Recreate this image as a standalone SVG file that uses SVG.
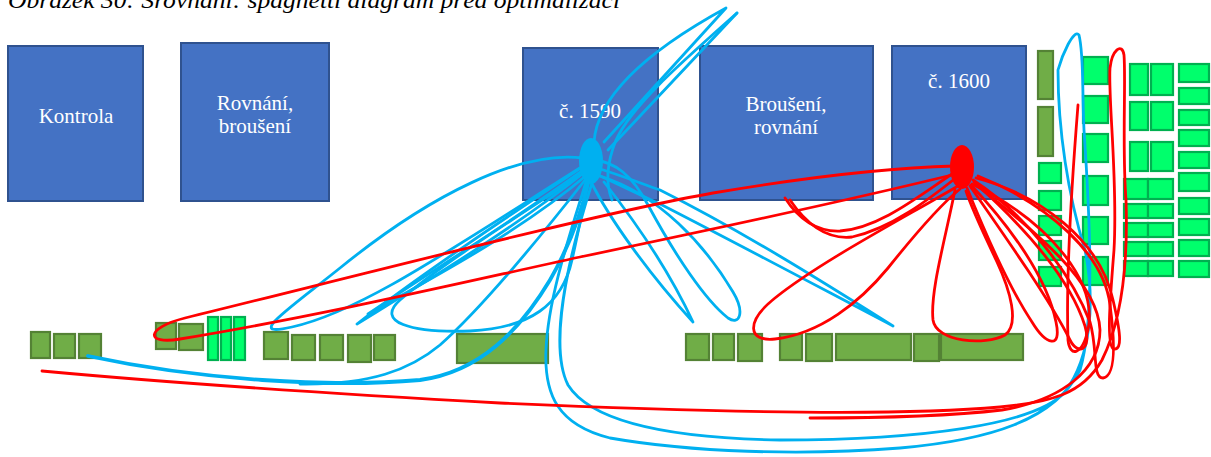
<svg xmlns="http://www.w3.org/2000/svg" width="1211" height="457" viewBox="0 0 1211 457">
  <style>
    .box{fill:#4472C4;stroke:#2F528F;stroke-width:2}
    .lbl{font-size:21px;fill:#FFFFFF;text-anchor:middle}
    .cap{font-size:23px;font-style:italic;fill:#000000}
    .dg{fill:#70AD47;stroke:#548235;stroke-width:2.2}
    .bg{fill:#00FF6C;stroke:#00B050;stroke-width:2.2}
    .blue{fill:none;stroke:#00B0F0;stroke-width:2.8;stroke-linecap:round;stroke-linejoin:round}
    .red{fill:none;stroke:#FF0000;stroke-width:2.8;stroke-linecap:round;stroke-linejoin:round}
  </style>
  <rect width="1211" height="457" fill="#FFFFFF"/>

  <g font-family="'Liberation Serif', 'Times New Roman', 'DejaVu Serif', serif">
  <text class="cap" x="8" y="8" textLength="612" lengthAdjust="spacingAndGlyphs">Obrázek 30: Srovnání: spaghetti diagram před optimalizací</text>

  <!-- workstations -->
  <g id="kontrola"><rect class="box" x="8" y="46" width="135" height="155"/><text class="lbl" x="76" y="123">Kontrola</text></g>
  <g id="rovnani-brouseni"><rect class="box" x="181" y="43" width="148" height="158"/><text class="lbl" x="255" y="110">Rovnání,</text><text class="lbl" x="255" y="133">broušení</text></g>
  <g id="c1590"><rect class="box" x="523" y="48" width="135" height="152"/><text class="lbl" x="590" y="118">č. 1590</text></g>
  <g id="brouseni-rovnani"><rect class="box" x="700" y="46" width="173" height="154"/><text class="lbl" x="786" y="111">Broušení,</text><text class="lbl" x="786" y="134">rovnání</text></g>
  <g id="c1600"><rect class="box" x="892" y="46" width="134" height="153"/><text class="lbl" x="959" y="88">č. 1600</text></g>
  </g>

  <!-- storage racks, bottom row left -->
  <g id="rack-a1"><rect class="dg" x="31" y="332" width="19" height="26"/></g>
  <g id="rack-a2"><rect class="dg" x="54" y="334" width="21" height="24"/></g>
  <g id="rack-a3"><rect class="dg" x="79" y="334" width="22" height="24"/></g>
  <g id="rack-b1"><rect class="dg" x="156" y="323" width="20" height="26"/></g>
  <g id="rack-b2"><rect class="dg" x="179" y="324" width="24" height="26"/></g>
  <g id="rack-b3"><rect class="bg" x="208" y="317" width="10" height="43"/></g>
  <g id="rack-b4"><rect class="bg" x="221" y="317" width="10" height="43"/></g>
  <g id="rack-b5"><rect class="bg" x="234" y="317" width="11" height="43"/></g>
  <g id="rack-c1"><rect class="dg" x="264" y="332" width="24" height="27"/></g>
  <g id="rack-c2"><rect class="dg" x="292" y="335" width="23" height="25"/></g>
  <g id="rack-c3"><rect class="dg" x="320" y="335" width="23" height="25"/></g>
  <g id="rack-c4"><rect class="dg" x="348" y="335" width="23" height="27"/></g>
  <g id="rack-c5"><rect class="dg" x="374" y="335" width="21" height="25"/></g>
  <g id="rack-c6"><rect class="dg" x="457" y="334" width="91" height="29"/></g>

  <!-- storage racks, bottom row right -->
  <g id="rack-d1"><rect class="dg" x="686" y="334" width="23" height="26"/></g>
  <g id="rack-d2"><rect class="dg" x="713" y="334" width="21" height="26"/></g>
  <g id="rack-d3"><rect class="dg" x="738" y="334" width="24" height="27"/></g>
  <g id="rack-d4"><rect class="dg" x="780" y="334" width="22" height="26"/></g>
  <g id="rack-d5"><rect class="dg" x="806" y="334" width="26" height="27"/></g>
  <g id="rack-d6"><rect class="dg" x="836" y="334" width="75" height="26"/></g>
  <g id="rack-d7"><rect class="dg" x="914" y="334" width="25" height="27"/></g>
  <g id="rack-d8"><rect class="dg" x="941" y="334" width="82" height="26"/></g>

  <!-- storage racks, right side -->
  <g id="rack-e1"><rect class="dg" x="1038" y="51" width="15" height="48"/></g>
  <g id="rack-e2"><rect class="dg" x="1038" y="107" width="15" height="49"/></g>
  <g id="rack-f1"><rect class="bg" x="1039" y="163" width="22" height="20"/></g>
  <g id="rack-f2"><rect class="bg" x="1039" y="191" width="22" height="19"/></g>
  <g id="rack-f3"><rect class="bg" x="1039" y="216" width="22" height="19"/></g>
  <g id="rack-f4"><rect class="bg" x="1039" y="241" width="22" height="19"/></g>
  <g id="rack-f5"><rect class="bg" x="1039" y="267" width="22" height="19"/></g>
  <g id="rack-g1"><rect class="bg" x="1083" y="57" width="25" height="27"/></g>
  <g id="rack-g2"><rect class="bg" x="1083" y="96" width="25" height="27"/></g>
  <g id="rack-g3"><rect class="bg" x="1083" y="134" width="25" height="28"/></g>
  <g id="rack-g4"><rect class="bg" x="1083" y="176" width="25" height="29"/></g>
  <g id="rack-g5"><rect class="bg" x="1083" y="217" width="25" height="27"/></g>
  <g id="rack-g6"><rect class="bg" x="1083" y="257" width="25" height="28"/></g>
  <g id="rack-h1"><rect class="bg" x="1130" y="64" width="18" height="31"/><rect class="bg" x="1151" y="64" width="22" height="31"/></g>
  <g id="rack-h2"><rect class="bg" x="1130" y="102" width="18" height="28"/><rect class="bg" x="1151" y="102" width="22" height="28"/></g>
  <g id="rack-h3"><rect class="bg" x="1130" y="142" width="18" height="29"/><rect class="bg" x="1151" y="142" width="22" height="29"/></g>
  <g id="rack-h4"><rect class="bg" x="1124" y="179" width="24" height="20"/><rect class="bg" x="1148" y="179" width="25" height="20"/></g>
  <g id="rack-h5"><rect class="bg" x="1124" y="204" width="24" height="14"/><rect class="bg" x="1148" y="204" width="25" height="14"/></g>
  <g id="rack-h6"><rect class="bg" x="1124" y="223" width="24" height="14"/><rect class="bg" x="1148" y="223" width="25" height="14"/></g>
  <g id="rack-h7"><rect class="bg" x="1124" y="242" width="24" height="14"/><rect class="bg" x="1148" y="242" width="25" height="14"/></g>
  <g id="rack-h8"><rect class="bg" x="1124" y="261" width="24" height="15"/><rect class="bg" x="1148" y="261" width="25" height="15"/></g>
  <g id="rack-i1"><rect class="bg" x="1179" y="64" width="30" height="18"/></g>
  <g id="rack-i2"><rect class="bg" x="1179" y="88" width="30" height="16"/></g>
  <g id="rack-i3"><rect class="bg" x="1179" y="110" width="30" height="15"/></g>
  <g id="rack-i4"><rect class="bg" x="1179" y="130" width="30" height="16"/></g>
  <g id="rack-i5"><rect class="bg" x="1179" y="152" width="30" height="16"/></g>
  <g id="rack-i6"><rect class="bg" x="1179" y="173" width="30" height="18"/></g>
  <g id="rack-i7"><rect class="bg" x="1179" y="198" width="30" height="16"/></g>
  <g id="rack-i8"><rect class="bg" x="1179" y="219" width="30" height="16"/></g>
  <g id="rack-i9"><rect class="bg" x="1179" y="240" width="30" height="16"/></g>
  <g id="rack-i10"><rect class="bg" x="1179" y="261" width="30" height="16"/></g>

  <!-- material flow paths -->
  <g id="connectors">
    <g id="flow-1590">
      <path class="blue" d="M 594,142 C 597,100 640,55 726,8 L 604,142"/>
      <path class="blue" d="M 737,13 L 608,150"/>
      <path class="blue" d="M 737,13 C 682,62 632,105 616,140 C 606,165 606,185 612,200"/>
      <path class="blue" d="M 583,158 C 520,150 430,195 340,268 C 285,312 245,338 292,327 C 360,312 450,250 583,166"/>
      <path class="blue" d="M 585,165 C 510,215 420,275 357,324 C 425,282 515,228 586,171"/>
      <path class="blue" d="M 586,168 C 515,220 430,272 368,314 C 432,278 520,232 588,174"/>
      <path class="blue" d="M 588,170 C 520,215 440,265 400,300 C 375,322 410,333 470,331 C 530,328 562,305 572,260 C 580,225 585,195 589,180"/>
      <path class="blue" style="stroke-width:3.8" d="M 88,356 C 200,380 330,388 420,380 C 480,372 520,330 550,280 C 570,245 582,210 588,183"/>
      <path class="blue" d="M 300,384 C 370,385 410,370 440,345 C 480,310 530,250 585,180"/>
      <path class="blue" d="M 586,182 C 568,240 548,300 546,350 C 544,395 558,425 610,438 C 690,452 800,456 900,448 C 990,440 1055,420 1080,370 C 1095,320 1090,220 1084,130 C 1082,90 1084,55 1079,35 C 1074,28 1062,55 1058,70 C 1058,130 1068,195 1085,250 C 1095,300 1092,355 1065,392 C 1035,425 920,440 780,440 C 660,438 590,420 568,385 C 553,355 558,290 592,183"/>
      <path class="blue" d="M 594,160 C 615,162 632,175 648,205 C 675,255 705,300 728,318 C 740,326 745,312 733,292 C 705,245 660,195 600,176"/>
      <path class="blue" d="M 590,180 C 610,220 650,275 693,322 C 678,290 650,240 604,182"/>
      <path class="blue" d="M 597,168 C 620,175 640,183 660,190 C 740,230 820,280 893,326 C 815,285 740,245 662,205 C 640,195 620,185 598,175"/>
    </g>
    <g id="flow-1600">
      <path class="red" d="M 955,166 C 880,168 790,180 713,193 C 600,213 380,270 185,318 C 145,328 145,345 180,339 C 320,316 460,283 580,257 C 700,232 850,200 956,174"/>
      <path class="red" d="M 785,198 C 798,218 815,232 840,231 C 880,228 920,195 955,172"/>
      <path class="red" d="M 790,200 C 805,222 825,240 852,237 C 892,228 928,200 957,177"/>
      <path class="red" d="M 958,186 C 900,220 820,262 775,298 C 745,322 748,342 775,339 C 820,334 860,302 888,268 C 912,238 940,205 960,189"/>
      <path class="red" d="M 955,190 C 945,240 930,292 933,320 C 936,342 985,346 1005,335 C 1020,324 1010,290 997,262 C 985,236 973,212 966,191"/>
      <path class="red" d="M 967,188 C 988,240 1012,292 1032,322 C 1046,345 1062,350 1056,322 C 1046,272 1002,218 971,185"/>
      <path class="red" d="M 970,186 C 1002,232 1050,300 1070,340 C 1078,356 1092,350 1085,326 C 1068,272 1012,216 974,182"/>
      <path class="red" d="M 973,180 C 1022,212 1070,270 1090,322 C 1098,350 1092,378 1103,378 C 1116,376 1115,342 1110,305 C 1104,255 1050,205 978,176"/>
      <path class="red" d="M 1078,105 C 1072,180 1066,280 1068,340 C 1070,358 1082,355 1088,330 C 1098,282 1050,222 972,184"/>
      <path class="red" d="M 976,178 C 1040,195 1100,240 1113,300 C 1120,330 1123,350 1114,349 C 1106,348 1110,300 1114,250 C 1118,180 1108,100 1110,68 C 1112,50 1122,42 1124,55 C 1126,80 1122,150 1126,200 C 1128,260 1122,320 1102,360 C 1082,395 1050,402 1000,407 C 900,416 700,412 500,403 C 300,392 150,381 42,371"/>
      <path class="red" d="M 975,184 C 1030,228 1098,280 1100,330 C 1100,370 1062,400 1002,410 C 950,416 880,418 810,418"/>
    </g>
  </g>

  <!-- hubs -->
  <g id="hub-1590"><ellipse cx="591" cy="161" rx="12" ry="23" fill="#00B0F0"/></g>
  <g id="hub-1600"><ellipse cx="962" cy="167" rx="12" ry="22" fill="#FF0000"/></g>
</svg>
